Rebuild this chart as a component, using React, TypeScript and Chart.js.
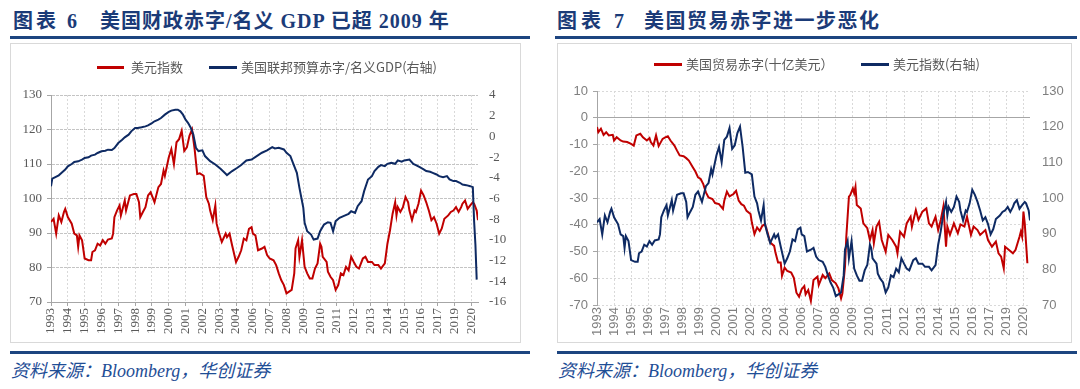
import React, { useEffect, useRef } from 'react';
import { Chart, registerables } from 'chart.js';

Chart.register(...registerables);

// ---------- shared x axis (monthly, Jan 1993 = month 0; Excel label interval 13) ----------
const xTickLabels = [
  '1993', '1994', '1995', '1996', '1997', '1998', '1999', '2000', '2001', '2002', '2003', '2004',
  '2006', '2007', '2008', '2009', '2010', '2011', '2012', '2013', '2014', '2015', '2016', '2017',
  '2019', '2020',
];
const LABEL_STEP = 13;
const X_MAX = 330;

// ---------- 美元指数 (dollar index) ----------
const dollarIndexMonth = [
  0, 2, 4, 6, 8, 10, 11, 13, 16, 18, 20, 21, 22, 24, 26, 29, 31, 32, 34, 36, 38, 40, 42, 44, 47, 48,
  49, 51, 53, 54, 57, 58, 61, 64, 66, 68, 69, 71, 73, 75, 77, 79, 80, 83, 85, 87, 88, 91, 93, 95,
  97, 99, 101, 103, 105, 107, 109, 111, 113, 115, 118, 120, 122, 123, 125, 127, 128, 130, 132, 135,
  136, 138, 140, 143, 145, 147, 149, 151, 153, 155, 156, 158, 160, 163, 165, 167, 169, 172, 174, 176,
  178, 180, 182, 184, 186, 188, 189, 191, 192, 194, 196, 198, 200, 202, 204, 206, 208, 209, 210, 213,
  214, 216, 218, 220, 222, 224, 226, 228, 230, 232, 234, 236, 238, 241, 243, 245, 248, 250, 253, 255,
  258, 260, 262, 264, 266, 267, 268, 270, 272, 274, 276, 277, 279, 281, 282, 284, 286, 288, 290, 292,
  294, 296, 298, 300, 302, 304, 307, 309, 311, 313, 315, 317, 318, 320, 322, 324, 326, 327, 329, 330,
];
const dollarIndexValue = [
  93.2, 94.1, 89.8, 95.1, 93.2, 96.1, 97.0, 94.6, 92.7, 89.8, 89.3, 86.0, 89.3, 87.9, 82.6, 82.1, 82.1, 84.5, 85.0, 86.9, 86.4, 87.9, 86.9, 88.1, 88.4, 89.8,
  94.6, 96.5, 98.0, 95.1, 99.4, 96.5, 100.9, 101.3, 101.3, 98.9, 94.6, 96.1, 97.5, 100.9, 101.8, 99.9, 98.9, 103.3, 104.2, 108.1, 106.6, 111.9, 114.3, 110.0,
  116.3, 117.2, 119.6, 113.8, 114.8, 118.2, 120.0, 114.3, 107.1, 107.3, 106.6, 100.4, 98.5, 96.5, 93.7, 98.0, 92.7, 89.8, 87.4, 89.8,
  88.8, 89.8, 86.4, 81.6, 83.1, 85.0, 88.4, 87.9, 91.2, 91.7, 89.8, 89.3, 85.0, 85.5, 86.0, 83.6, 82.6, 82.1, 80.7, 78.3,
  76.3, 74.9, 72.5, 73.0, 73.5, 78.3, 85.5, 87.9, 83.1, 87.9, 80.2, 78.3, 76.8, 76.8, 79.7, 81.2, 86.9, 86.0, 83.1, 81.6,
  78.8, 77.3, 76.3, 73.5, 74.9, 78.3, 77.8, 80.2, 79.2, 83.1, 81.6, 80.2, 79.7, 82.6, 83.1, 81.6, 81.6, 80.7, 80.7, 79.7,
  81.2, 86.9, 90.8, 95.6, 98.9, 95.1, 97.5, 96.1, 97.5, 100.4, 98.9, 96.5, 93.7, 96.5, 96.1, 98.5, 102.3, 100.9, 98.9, 96.5,
  93.7, 94.6, 92.7, 89.8, 91.3, 94.1, 95.1, 96.1, 96.5, 97.5, 96.1, 97.5, 98.5, 99.4, 97.0, 98.0, 98.9, 98.5, 96.5, 93.7,
];

// ---------- 美国联邦预算赤字/名义GDP (%) ----------
const budgetMonth = [
  0, 1, 3, 6, 8, 11, 13, 16, 18, 21, 24, 26, 29, 31, 34, 36, 39, 42, 44, 47, 49, 52, 55, 57, 60, 62,
  65, 67, 70, 73, 75, 78, 80, 83, 85, 88, 91, 93, 96, 98, 100, 102, 104, 106, 108, 110, 112, 114, 117, 119,
  123, 127, 131, 135, 136, 140, 144, 147, 151, 155, 159, 163, 167, 171, 173, 176, 180, 182, 185, 187,
  190, 192, 195, 196, 198, 201, 203, 206, 208, 211, 214, 216, 218, 220, 223, 226, 230, 232, 235, 237,
  240, 242, 245, 248, 250, 253, 255, 258, 260, 263, 266, 268, 271, 273, 277, 280, 282, 285, 288, 290,
  293, 295, 298, 300, 303, 306, 308, 311, 313, 316, 318, 321, 324, 326, 327, 328, 329,
];
const budgetValue = [
  -4.82, -4.08, -3.95, -3.76, -3.54, -3.21, -2.89, -2.67, -2.47, -2.41, -2.25, -2.09, -2.02, -1.86, -1.76, -1.6, -1.44, -1.38, -1.28, -1.31, -1.12, -0.64, -0.32, -0.09, 0.17, 0.49,
  0.81, 0.81, 0.88, 0.97, 1.07, 1.29, 1.46, 1.62, 1.78, 2.1, 2.36, 2.49, 2.58, 2.58, 2.42, 2.1, 1.62, 1.29, 0.84, 0.19, -1.1, -1.42, -1.35, -1.9,
  -2.39, -2.71, -3.13, -3.61, -3.74, -3.35, -3.03, -2.77, -2.32, -2.23, -1.9, -1.58, -1.35, -1.03, -1.16, -1.1, -1.26, -1.58, -1.9, -2.55,
  -3.52, -4.97, -6.9, -8.35, -9.16, -9.48, -9.97, -9.87, -9.16, -8.52, -8.29, -8.35, -9.16, -8.19, -7.87, -7.7, -7.48, -7.23, -7.39, -6.74,
  -6.26, -5.29, -4.16, -3.84, -3.35, -2.94, -2.77, -2.87, -2.65, -2.55, -2.65, -2.32, -2.45, -2.32, -2.23, -2.65, -2.77, -2.97, -3.19, -3.35,
  -3.42, -3.52, -3.68, -3.84, -3.94, -3.84, -4.16, -4.32, -4.32, -4.48, -4.65, -4.71, -4.81, -4.9, -8.19, -10.45, -13.84,
];

// ---------- 美国贸易赤字 (十亿美元) ----------
const tradeMonth = [
  0, 1, 3, 5, 7, 9, 12, 13, 15, 18, 20, 23, 26, 28, 30, 33, 35, 38, 40, 41, 43, 45, 47, 50, 52, 54,
  56, 59, 61, 63, 66, 68, 70, 73, 75, 77, 79, 81, 83, 85, 88, 90, 93, 96, 97, 99, 101, 104, 106, 108,
  110, 112, 114, 117, 118, 120, 122, 124, 126, 128, 130, 132, 135, 136, 138, 140, 141, 143, 145, 148,
  150, 152, 154, 156, 158, 159, 161, 163, 165, 168, 169, 172, 174, 177, 179, 182, 184, 186, 187, 189,
  190, 192, 193, 195, 196, 197, 198, 201, 203, 206, 208, 210, 211, 213, 215, 217, 220, 222, 225, 228,
  229, 231, 234, 236, 239, 240, 243, 245, 248, 251, 253, 255, 258, 260, 262, 264, 266, 267, 269, 272,
  275, 277, 280, 282, 285, 287, 290, 292, 296, 298, 301, 304, 306, 308, 310, 311, 314, 317, 319, 322,
  323, 324, 325, 326, 328,
];
const tradeValue = [
  -3.5, -5.4, -4.1, -6.4, -5.4, -6.6, -6.4, -8.5, -7.3, -8.5, -8.9, -9.1, -9.8, -10.4, -6.6, -6.0, -7.3, -8.5, -7.6, -9.1, -10.4, -6.6, -10.6, -7.9, -7.3, -6.9,
  -8.5, -10.4, -12.3, -14.1, -14.4, -15.1, -16.0, -18.5, -20.1, -22.3, -22.9, -24.8, -27.9, -29.8, -30.4, -31.9, -32.3, -34.1, -31.0, -27.6, -29.4, -28.5, -27.3, -31.0,
  -32.3, -32.9, -34.8, -36.0, -39.1, -43.5, -41.0, -42.3, -40.4, -39.8, -42.9, -46.6, -47.9, -50.4, -54.1, -54.1, -59.1, -56.0, -57.3, -57.9,
  -59.8, -65.4, -66.9, -64.1, -62.9, -66.0, -64.4, -68.5, -60.7, -59.4, -62.5, -58.8, -60.0, -58.2, -60.7, -61.9, -63.8, -67.5, -65.7, -55.7,
  -44.5, -29.5, -28.9, -26.4, -28.2, -25.8, -32.6, -33.9, -39.5, -41.3, -45.7, -42.0, -46.9, -40.7, -38.9, -45.7, -50.1, -43.8, -45.7, -48.2,
  -50.7, -42.6, -44.5, -39.5, -37.0, -40.7, -34.5, -38.2, -35.1, -33.9, -39.5, -40.7, -37.0, -42.0, -38.2, -33.2, -48.2, -40.7, -43.8, -39.5,
  -43.2, -39.9, -40.7, -37.0, -43.8, -40.7, -42.0, -43.8, -42.0, -45.7, -48.2, -46.3, -50.7, -51.9, -56.3, -48.2, -49.4, -50.7, -49.4, -44.5,
  -42.6, -44.5, -35.1, -39.5, -54.4,
];

const RED = '#C00000';
const NAVY = '#0E2A63';
const TITLE_BLUE = '#1B3B78';
const RULE_BLUE = '#1D4580';
const SERIF = '"Liberation Serif", "Times New Roman", serif';
const SANS = '"Liberation Sans", Arial, sans-serif';
const CJK = '"Noto Sans CJK SC", sans-serif';

const toPoints = (months: number[], values: number[]) => months.map((m, i) => ({ x: m, y: values[i] }));

function xAxis(height: number, drawBottom: boolean, family: string, color: string) {
  return {
    type: 'linear',
    min: 0,
    max: X_MAX,
    bounds: 'data',
    afterBuildTicks: (s: any) => {
      s.ticks = xTickLabels.map((_, i) => ({ value: i * LABEL_STEP }));
    },
    afterFit: (s: any) => {
      s.height = height;
    },
    ticks: {
      autoSkip: false,
      minRotation: 90,
      maxRotation: 90,
      padding: 2,
      color,
      font: { family, size: 13 },
      callback: (_v: any, i: number) => xTickLabels[i],
    },
    grid: { color: '#D9D9D9', lineWidth: 1, drawTicks: drawBottom, tickLength: 4, tickColor: '#A6A6A6' },
    border: { display: drawBottom, color: '#A6A6A6', dash: [2, 2] },
  };
}

function ChartCanvas({ width, height, build }: { width: number; height: number; build: () => any }) {
  const ref = useRef<HTMLCanvasElement>(null);
  useEffect(() => {
    const chart = new Chart(ref.current as HTMLCanvasElement, build());
    return () => chart.destroy();
  }, []);
  return <canvas ref={ref} width={width} height={height} style={{ width, height, display: 'block' }} />;
}

const buildLeft = () => ({
  type: 'line',
  data: {
    datasets: [
      {
        label: '美元指数',
        data: toPoints(dollarIndexMonth, dollarIndexValue),
        borderColor: RED,
        backgroundColor: RED,
        yAxisID: 'y',
        order: 1,
      },
      {
        label: '美国联邦预算赤字/名义GDP(右轴)',
        data: toPoints(budgetMonth, budgetValue),
        borderColor: NAVY,
        backgroundColor: NAVY,
        yAxisID: 'y1',
        order: 0,
      },
    ],
  },
  options: {
    responsive: false,
    animation: false,
    devicePixelRatio: 1,
    layout: { padding: { top: 51, left: 0, right: 0, bottom: 0 } },
    elements: { point: { radius: 0 }, line: { borderWidth: 2, tension: 0 } },
    plugins: { legend: { display: false }, tooltip: { enabled: false } },
    scales: {
      x: xAxis(40, true, SERIF, '#595959'),
      y: {
        type: 'linear',
        position: 'left',
        min: 70,
        max: 130,
        afterFit: (s: any) => {
          s.width = 40;
        },
        ticks: { stepSize: 10, padding: 5, color: '#595959', font: { family: SERIF, size: 13 } },
        grid: { color: '#C4C4C4', drawTicks: true, tickLength: 4, tickColor: '#A6A6A6' },
        border: { display: true, color: '#A6A6A6', dash: [3, 1] },
      },
      y1: {
        type: 'linear',
        position: 'right',
        min: -16,
        max: 4,
        afterFit: (s: any) => {
          s.width = 42;
        },
        ticks: { stepSize: 2, padding: 11, color: '#595959', font: { family: SERIF, size: 13 } },
        grid: { display: false, drawTicks: false },
        border: { display: false },
      },
    },
  },
});

const buildRight = () => ({
  type: 'line',
  data: {
    datasets: [
      {
        label: '美国贸易赤字(十亿美元）',
        data: toPoints(tradeMonth, tradeValue),
        borderColor: RED,
        backgroundColor: RED,
        yAxisID: 'y',
        order: 1,
      },
      {
        label: '美元指数(右轴)',
        data: toPoints(dollarIndexMonth, dollarIndexValue),
        borderColor: NAVY,
        backgroundColor: NAVY,
        yAxisID: 'y1',
        order: 0,
      },
    ],
  },
  options: {
    responsive: false,
    animation: false,
    devicePixelRatio: 1,
    layout: { padding: { top: 47, left: 0, right: 0, bottom: 0 } },
    elements: { point: { radius: 0 }, line: { borderWidth: 2, tension: 0 } },
    plugins: { legend: { display: false }, tooltip: { enabled: false } },
    scales: {
      x: xAxis(37, false, SANS, '#7F7F7F'),
      y: {
        type: 'linear',
        position: 'left',
        min: -70,
        max: 10,
        afterFit: (s: any) => {
          s.width = 39;
        },
        ticks: { stepSize: 10, padding: 5, color: '#7F7F7F', font: { family: SANS, size: 13 } },
        grid: {
          color: (c: any) => (c.tick && c.tick.value === 0 ? '#A6A6A6' : '#D9D9D9'),
          drawTicks: true,
          tickLength: 4,
          tickColor: '#A6A6A6',
        },
        border: {
          display: true,
          color: '#A6A6A6',
          dash: (c: any) => (c.tick && c.tick.value === 0 ? [] : [2, 2]),
        },
      },
      y1: {
        type: 'linear',
        position: 'right',
        min: 70,
        max: 130,
        afterFit: (s: any) => {
          s.width = 41;
        },
        ticks: { stepSize: 10, padding: 12, color: '#7F7F7F', font: { family: SANS, size: 13 } },
        grid: { display: false, drawTicks: false },
        border: { display: false },
      },
    },
  },
});

const abs = (left: number, top: number, extra: React.CSSProperties = {}): React.CSSProperties => ({
  position: 'absolute',
  left,
  top,
  ...extra,
});

const titleStyle: React.CSSProperties = {
  fontFamily: `"Liberation Serif", ${CJK}`,
  fontWeight: 700,
  fontSize: 20,
  lineHeight: '24px',
  color: TITLE_BLUE,
  whiteSpace: 'nowrap',
};
const legendText: React.CSSProperties = {
  fontFamily: `${CJK}`,
  fontSize: 13,
  lineHeight: '16px',
  color: '#595959',
  whiteSpace: 'nowrap',
};
const sourceStyle: React.CSSProperties = {
  fontFamily: `"Liberation Serif", ${CJK}`,
  fontStyle: 'italic',
  fontSize: 18,
  lineHeight: '20px',
  color: '#1F4E96',
  whiteSpace: 'nowrap',
};

function LegendLine({ left, top, width, color }: { left: number; top: number; width: number; color: string }) {
  return <div style={abs(left, top, { width, height: 3, background: color })} />;
}

export default function App() {
  useEffect(() => {
    document.body.style.margin = '0';
  }, []);
  return (
    <div style={{ position: 'fixed', left: 0, top: 0, width: 1080, height: 389, background: '#fff', overflow: 'hidden' }}>
      {/* ---------- left panel ---------- */}
      <div style={abs(13, 9, { ...titleStyle, letterSpacing: 3 })}>图表 6</div>
      <div style={abs(100, 9, { ...titleStyle, letterSpacing: 1 })}>美国财政赤字/名义 GDP 已超 2009 年</div>
      <div style={abs(10, 36, { width: 520, height: 3, background: RULE_BLUE })} />
      <div style={abs(10, 43, { width: 509, height: 298, border: '1px solid #D9D9D9' })} />
      <div style={abs(11, 44)}>
        <ChartCanvas width={509} height={298} build={buildLeft} />
      </div>
      <LegendLine left={97} top={66} width={27} color={RED} />
      <div style={abs(131, 59, legendText)}>美元指数</div>
      <LegendLine left={209} top={66} width={28} color={NAVY} />
      <div style={abs(241, 59, legendText)}>美国联邦预算赤字/名义GDP(右轴)</div>
      <div style={abs(10, 351, { width: 520, height: 3, background: RULE_BLUE })} />
      <div style={abs(11, 361, sourceStyle)}>资料来源：Bloomberg，华创证券</div>

      {/* ---------- right panel ---------- */}
      <div style={abs(557, 9, { ...titleStyle, letterSpacing: 4 })}>图表 7</div>
      <div style={abs(644, 9, { ...titleStyle, letterSpacing: 1.5 })}>美国贸易赤字进一步恶化</div>
      <div style={abs(555, 36, { width: 522, height: 3, background: RULE_BLUE })} />
      <div style={abs(557, 43, { width: 513, height: 298, border: '1px solid #D9D9D9' })} />
      <div style={abs(558, 44)}>
        <ChartCanvas width={513} height={298} build={buildRight} />
      </div>
      <LegendLine left={654} top={63} width={28} color={RED} />
      <div style={abs(686, 56, legendText)}>美国贸易赤字(十亿美元）</div>
      <LegendLine left={861} top={63} width={28} color={NAVY} />
      <div style={abs(893, 56, legendText)}>美元指数(右轴)</div>
      <div style={abs(557, 351, { width: 520, height: 3, background: RULE_BLUE })} />
      <div style={abs(558, 361, sourceStyle)}>资料来源：Bloomberg，华创证券</div>
    </div>
  );
}
